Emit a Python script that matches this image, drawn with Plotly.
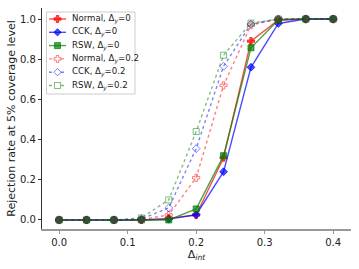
import plotly.graph_objects as go

delta_int = [0.0, 0.04, 0.08, 0.12, 0.16, 0.20, 0.24, 0.28, 0.32, 0.36, 0.40]

normal_0 = [0, 0, 0, 0, 0.008, 0.025, 0.31, 0.89, 0.995, 1.0, 1.0]
cck_0 = [0, 0, 0, 0, 0.004, 0.026, 0.24, 0.76, 0.978, 1.0, 1.0]
rsw_0 = [0, 0, 0, 0, 0.0, 0.055, 0.32, 0.857, 0.995, 1.0, 1.0]
normal_02 = [0, 0, 0, 0.002, 0.025, 0.21, 0.67, 0.97, 1.0, 1.0, 1.0]
cck_02 = [0, 0, 0, 0.005, 0.06, 0.355, 0.765, 0.975, 1.0, 1.0, 1.0]
rsw_02 = [0, 0, 0, 0.01, 0.10, 0.44, 0.82, 0.98, 1.0, 1.0, 1.0]

series_names = ["Normal, Δ<sub><i>y</i></sub>=0", "CCK, Δ<sub><i>y</i></sub>=0",
                "RSW, Δ<sub><i>y</i></sub>=0", "Normal, Δ<sub><i>y</i></sub>=0.2",
                "CCK, Δ<sub><i>y</i></sub>=0.2", "RSW, Δ<sub><i>y</i></sub>=0.2"]
series_values = [normal_0, cck_0, rsw_0, normal_02, cck_02, rsw_02]
series_colors = ["rgba(255,0,0,0.7)", "rgba(0,0,255,0.7)", "rgba(0,128,0,0.7)",
                 "rgba(255,0,0,0.5)", "rgba(0,0,255,0.5)", "rgba(0,128,0,0.5)"]
series_symbols = ["cross", "diamond", "square", "cross-open", "diamond-open", "square-open"]
series_dash = ["solid", "solid", "solid", "dot", "dot", "dot"]

# plot area in pixels (figure 359x269)
L, R, T, B = 42, 351, 8, 229
def px(x):
    return (x - L) / (R - L)
def py(y):
    return (B - y) / (B - T)

fig = go.Figure()
for name, vals, col, sym, dash in zip(series_names, series_values, series_colors,
                                      series_symbols, series_dash):
    fig.add_trace(go.Scatter(
        x=delta_int, y=vals, name=name, mode="lines+markers", showlegend=False,
        line=dict(color=col, width=1.4, dash=dash),
        marker=dict(symbol=sym, size=6, color=col, line=dict(color=col, width=1)),
    ))

# compact legend drawn as layout decorations
shapes = [dict(type="rect", xref="paper", yref="paper", x0=px(46.5), x1=px(135),
               y0=py(94), y1=py(12), line=dict(color="#cccccc", width=1),
               fillcolor="rgba(255,255,255,0.8)", layer="below")]
annotations = []
paths = {
    "cross": "M-1.2,-3.5 L1.2,-3.5 L1.2,-1.2 L3.5,-1.2 L3.5,1.2 L1.2,1.2 L1.2,3.5 L-1.2,3.5 L-1.2,1.2 L-3.5,1.2 L-3.5,-1.2 L-1.2,-1.2 Z",
    "diamond": "M0,-3.6 L3.6,0 L0,3.6 L-3.6,0 Z",
    "square": "M-3,-3 L3,-3 L3,3 L-3,3 Z",
}
row_y = [19, 32.3, 45.6, 58.9, 72.2, 85.5]
for ry, name, col, sym, dash in zip(row_y, series_names, series_colors, series_symbols, series_dash):
    shapes.append(dict(type="line", xref="paper", yref="paper", x0=px(49), x1=px(66),
                       y0=py(ry), y1=py(ry), line=dict(color=col, width=1.4, dash=dash)))
    base = sym.replace("-open", "")
    is_open = sym.endswith("-open")
    shapes.append(dict(type="path", xref="paper", yref="paper", xsizemode="pixel", ysizemode="pixel",
                       xanchor=px(57.5), yanchor=py(ry), path=paths[base],
                       fillcolor="white" if is_open else col,
                       line=dict(color=col, width=1)))
    annotations.append(dict(xref="paper", yref="paper", x=px(70), y=py(ry), text=name,
                            showarrow=False, xanchor="left", yanchor="middle",
                            font=dict(size=8.6, color="#222"), align="left"))

fig.update_layout(
    width=359, height=269,
    margin=dict(l=L, r=359 - R, t=T, b=269 - B, pad=0, autoexpand=False),
    paper_bgcolor="white", plot_bgcolor="white",
    font=dict(family="DejaVu Sans", size=10, color="#222"),
    showlegend=False,
    shapes=shapes, annotations=annotations,
    xaxis=dict(range=[-0.025, 0.426], tickvals=[0.0, 0.1, 0.2, 0.3, 0.4],
               ticktext=["0.0", "0.1", "0.2", "0.3", "0.4"], automargin=False,
               showgrid=False, zeroline=False, showline=True, linecolor="#999999", linewidth=2,
               ticks="outside", ticklen=3, tickcolor="#999999",
               title=dict(text="Δ<sub><i>int</i></sub>", font=dict(size=11), standoff=2)),
    yaxis=dict(range=[-0.045, 1.055], tickvals=[0.0, 0.2, 0.4, 0.6, 0.8, 1.0],
               ticktext=["0.0", "0.2", "0.4", "0.6", "0.8", "1.0"], automargin=False,
               showgrid=False, zeroline=False, showline=True, linecolor="#333333", linewidth=1.2,
               ticks="outside", ticklen=3, tickcolor="#333333",
               title=dict(text="Rejection rate at 5% coverage level", font=dict(size=11), standoff=2)),
)

fig.write_html("out.html", config={"displayModeBar": False},
               post_script="document.body.style.margin='0px';")
